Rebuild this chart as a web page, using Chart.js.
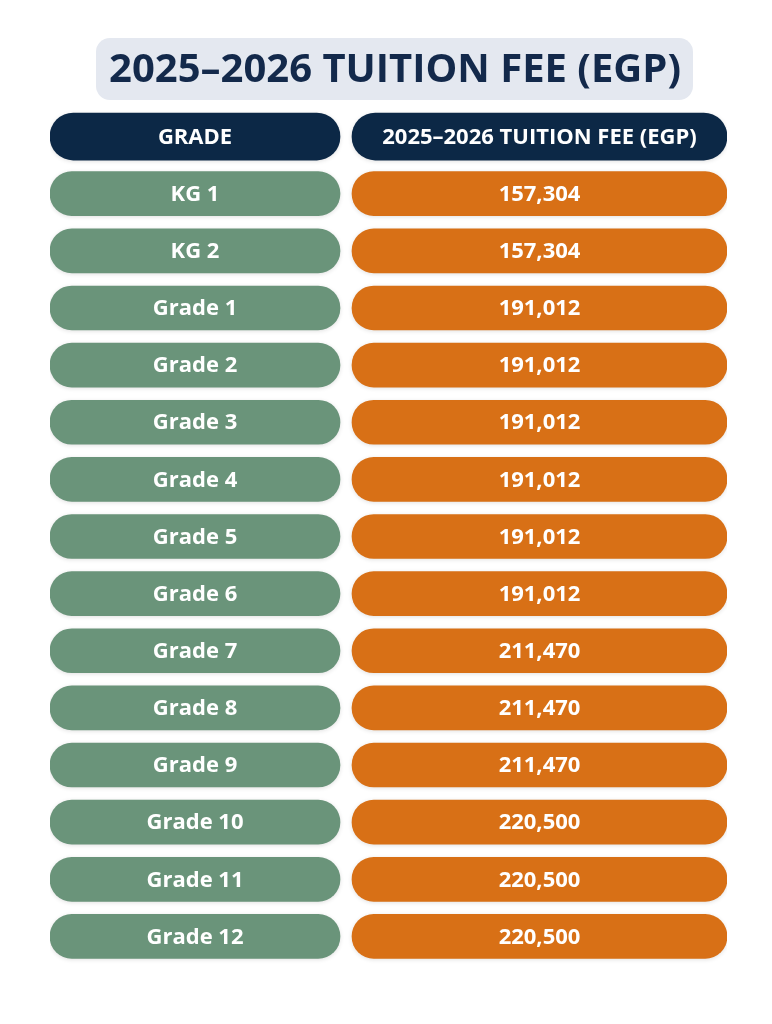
<!DOCTYPE html>
<html>
<head>
<meta charset="utf-8">
<script src="https://cdn.jsdelivr.net/npm/chart.js@4"></script>
<style>
  html, body { margin: 0; padding: 0; background: #ffffff; }
  #wrap { width: 772px; height: 1024px; position: relative; }
</style>
</head>
<body>
<div id="wrap"><canvas id="feeChart"></canvas></div>
<script>
// table content
const title = '2025–2026 TUITION FEE (EGP)';
const headers = ['GRADE', '2025–2026 TUITION FEE (EGP)'];
const grades = ['KG 1', 'KG 2', 'Grade 1', 'Grade 2', 'Grade 3', 'Grade 4', 'Grade 5',
    'Grade 6', 'Grade 7', 'Grade 8', 'Grade 9', 'Grade 10', 'Grade 11', 'Grade 12'];
const fees = [157304, 157304, 191012, 191012, 191012, 191012, 191012,
    191012, 211470, 211470, 211470, 220500, 220500, 220500];

// layout: column spans on the hidden x scale (0..677 = 677px of chart area)
const gradeCol = [0, 290];
const feeCol = [302, 677];

const navy = '#0c2846';
const green = '#6a947a';
const orange = '#d87016';

const rows = ['header'].concat(grades);

function headerCell(col) {
    return rows.map((_, i) => i === 0 ? col : null);
}
function bodyCell(col) {
    return rows.map((_, i) => i === 0 ? null : col);
}

const cellText = [
    rows.map((_, i) => i === 0 ? headers[0] : null),
    rows.map((_, i) => i === 0 ? headers[1] : null),
    rows.map((_, i) => i === 0 ? null : grades[i - 1]),
    rows.map((_, i) => i === 0 ? null : fees[i - 1].toLocaleString('en-US')),
];

const titleBox = {
    id: 'titleBox',
    beforeDraw(chart) {
        const ctx = chart.ctx;
        ctx.save();
        ctx.fillStyle = '#e4e8f0';
        ctx.beginPath();
        ctx.roundRect(96, 38, 597, 62, 14);
        ctx.fill();
        ctx.fillStyle = '#13294b';
        ctx.font = 'bold 40px "Open Sans"';
        ctx.textAlign = 'center';
        ctx.textBaseline = 'middle';
        ctx.fillText(title, 395, 71);
        ctx.restore();
    },
    beforeDatasetsDraw(chart) {
        const ctx = chart.ctx;
        ctx.save();
        ctx.shadowColor = 'rgba(0,0,0,0.12)';
        ctx.shadowBlur = 4;
        ctx.shadowOffsetY = 1;
    },
    afterDatasetsDraw(chart) {
        const ctx = chart.ctx;
        ctx.restore();
        ctx.save();
        ctx.fillStyle = '#ffffff';
        ctx.textAlign = 'center';
        ctx.textBaseline = 'middle';
        chart.data.datasets.forEach((ds, d) => {
            const meta = chart.getDatasetMeta(d);
            meta.data.forEach((el, i) => {
                const txt = cellText[d][i];
                if (txt == null) return;
                const c = el.getCenterPoint();
                ctx.font = 'bold 22px "Open Sans"';
                ctx.fillText(txt, c.x, c.y + 1);
            });
        });
        ctx.restore();
    }
};

const common = {
    borderRadius: 24,
    borderSkipped: false,
    borderWidth: 0,
    categoryPercentage: 1,
    barPercentage: 1,
};

new Chart(document.getElementById('feeChart'), {
    type: 'bar',
    data: {
        labels: rows,
        datasets: [
            Object.assign({ label: headers[0], data: headerCell(gradeCol), backgroundColor: navy, barThickness: 47 }, common),
            Object.assign({ label: headers[1], data: headerCell(feeCol), backgroundColor: navy, barThickness: 47 }, common),
            Object.assign({ label: 'Grade', data: bodyCell(gradeCol), backgroundColor: green, barThickness: 44 }, common),
            Object.assign({ label: 'Fee', data: bodyCell(feeCol), backgroundColor: orange, barThickness: 44 }, common),
        ],
    },
    options: {
        indexAxis: 'y',
        responsive: true,
        maintainAspectRatio: false,
        animation: false,
        layout: { padding: { top: 108, bottom: 59, left: 50, right: 45 } },
        plugins: {
            legend: { display: false },
            tooltip: { enabled: false },
            title: { display: false },
        },
        scales: {
            x: { type: 'linear', min: 0, max: 677, display: false, stacked: false },
            y: { type: 'category', display: false, stacked: true, grid: { display: false } },
        },
    },
    plugins: [titleBox],
});
</script>
</body>
</html>
